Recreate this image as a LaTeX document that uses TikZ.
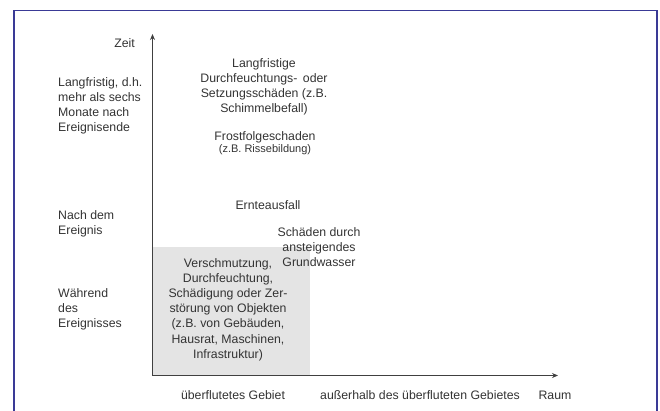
\documentclass[tikz,border=0pt]{standalone}
\usepackage{fontspec}
\setmainfont{Liberation Sans}
\usetikzlibrary{arrows.meta}
\definecolor{framecol}{RGB}{58,58,150}
\definecolor{boxgrey}{RGB}{228,228,228}
\tikzset{
  lbl/.style={inner sep=0pt, text=black!80, font=\fontsize{12.3}{15.2}\selectfont},
  lleft/.style={lbl, align=left, anchor=north west},
  lmid/.style={lbl, align=center, anchor=north},
  axis/.style={draw=black!75, line width=1.3pt, -{Stealth[length=6pt,width=5pt]}}
}
\begin{document}
\begin{tikzpicture}[x=1pt,y=-1pt]
\useasboundingbox (0,0) rectangle (660,410);
% frame
\draw[framecol, line width=1.6pt] (14,412) -- (14,10.5) -- (657,10.5) -- (657,412);
% grey area
\fill[boxgrey] (152,247) rectangle (310,375);
% axes
\coordinate (o) at (152.5,375.5);
\coordinate (ytip) at (152.5,34);
\coordinate (xtip) at (558,375.5);
\draw[axis] (o) -- (ytip);
\draw[axis] (o) -- (xtip);
% axis labels
\node[lbl, anchor=center] (zeit) at (124.5,43) {Zeit};
\node[lbl, anchor=center] (raum) at (555,395) {Raum};
\node[lbl, anchor=center] (ueber) at (233,395) {überflutetes Gebiet};
\node[lbl, anchor=center] (ausser) at (420,395) {außerhalb des überfluteten Gebietes};
% time labels
\node[lleft] (lang) at (58,77) {Langfristig, d.h.\\mehr als sechs\\Monate nach\\Ereignisende};
\node[lleft] (nach) at (58,210) {Nach dem\\Ereignis};
\node[lleft] (waehr) at (58,288) {Während\\des\\Ereignisses};
% damages
\node[lmid] (setz) at (264,58) {Langfristige\\Durchfeuchtungs-\, oder\\Setzungsschäden (z.B.\\Schimmelbefall)};
\node[lmid] (frost) at (265,131) {Frostfolgeschaden};
\node[lmid, font=\fontsize{11}{13}\selectfont] (riss) at (265,144) {(z.B. Rissebildung)};
\node[lmid] (ernte) at (268,200) {Ernteausfall};
\node[lmid] (grund) at (319,227) {Schäden durch\\ansteigendes\\Grundwasser};
\node[lmid] (versch) at (228,258) {Verschmutzung,\\Durchfeuchtung,\\Schädigung oder Zer-\\störung von Objekten\\(z.B. von Gebäuden,\\Hausrat, Maschinen,\\Infrastruktur)};
\end{tikzpicture}
\end{document}
